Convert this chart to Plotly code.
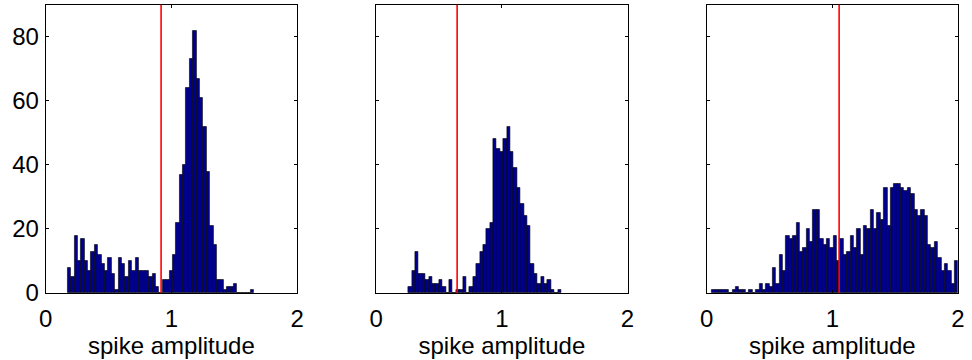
import plotly.graph_objects as go

# ---- data ----
bin_width = [0.0270, 0.0270, 0.02682]
bin_start = [0.1728, 0.2567, 0.0424]

counts_1 = [8, 5, 18, 10, 17, 10, 7, 13, 15, 12, 9, 7, 11, 6, 1, 11, 9, 5, 10, 7,
            11, 7, 7, 7, 5, 6, 2, 0, 4, 4, 7, 12, 22, 37, 40, 64, 73, 82, 67, 61,
            52, 38, 21, 15, 4, 4, 1, 2, 2, 3, 0, 0, 0, 0, 1]
counts_2 = [2, 7, 13, 6, 6, 4, 5, 3, 3, 4, 2, 0, 4, 0, 1, 1, 5, 0, 2, 5,
            9, 13, 15, 20, 22, 48, 45, 44, 48, 52, 44, 39, 33, 28, 24, 21, 9, 6, 3, 5,
            3, 4, 1, 0, 1]
counts_3 = [1, 1, 1, 1, 1, 0, 1, 2, 1, 1, 0, 1, 0, 1, 3, 1, 3, 2, 8, 3,
            12, 7, 18, 17, 18, 22, 13, 14, 20, 16, 26, 26, 17, 15, 17, 14, 18, 10, 17, 12,
            13, 18, 14, 20, 12, 21, 20, 26, 20, 25, 23, 33, 21, 33, 34, 34, 33, 32, 33, 31,
            26, 24, 26, 24, 15, 14, 16, 11, 7, 9, 7, 3, 10]
thresholds = [0.918, 0.644, 1.054]

x_ticks = [0, 1, 2]
y_ticks = [0, 20, 40, 60, 80]
x_title = "spike amplitude"

# ---- figure ----
FONT = "Liberation Sans, Arial, sans-serif"
FS = 24
W, H = 972, 360
x_domains = [[39.3 / W, 294.3 / W], [374.6 / W, 629.6 / W], [709.9 / W, 964.9 / W]]
y_domain = [(H - 304) / H, (H - 5) / H]

fig = go.Figure()
all_counts = [counts_1, counts_2, counts_3]
for k, cnts in enumerate(all_counts):
    centers = [bin_start[k] + bin_width[k] * (i + 0.5) for i in range(len(cnts))]
    axn = "" if k == 0 else str(k + 1)
    fig.add_trace(go.Bar(
        x=centers, y=cnts, width=bin_width[k],
        marker=dict(color="#00008F", line=dict(color="black", width=0.6)),
        xaxis="x" + axn, yaxis="y" + axn, showlegend=False,
    ))
    fig.add_shape(type="line", xref="x" + axn, yref="y" + axn + " domain",
                  x0=thresholds[k], x1=thresholds[k], y0=0, y1=1,
                  line=dict(color="#FF0000", width=1.6))

axis_common = dict(showline=True, linecolor="black", linewidth=1, mirror="ticks",
                   ticks="inside", ticklen=3, tickcolor="black", showgrid=False,
                   zeroline=False, tickfont=dict(family=FONT, size=FS, color="black"))

layout = dict(width=W, height=H, margin=dict(l=0, r=0, t=0, b=0),
              paper_bgcolor="white", plot_bgcolor="white", bargap=0,
              font=dict(family=FONT, color="black"))
for k in range(3):
    axn = "" if k == 0 else str(k + 1)
    layout["xaxis" + axn] = dict(
        axis_common, domain=x_domains[k], range=[0, 2], tickvals=x_ticks,
        anchor="y" + axn, ticklabelstandoff=4,
        title=dict(text=x_title, font=dict(family=FONT, size=FS, color="black"), standoff=0),
    )
    layout["yaxis" + axn] = dict(
        axis_common, domain=y_domain, range=[0, 90], tickvals=y_ticks,
        anchor="x" + axn, showticklabels=(k == 0), ticklabelstandoff=1,
    )
fig.update_layout(**layout)
fig.write_html("out.html")
